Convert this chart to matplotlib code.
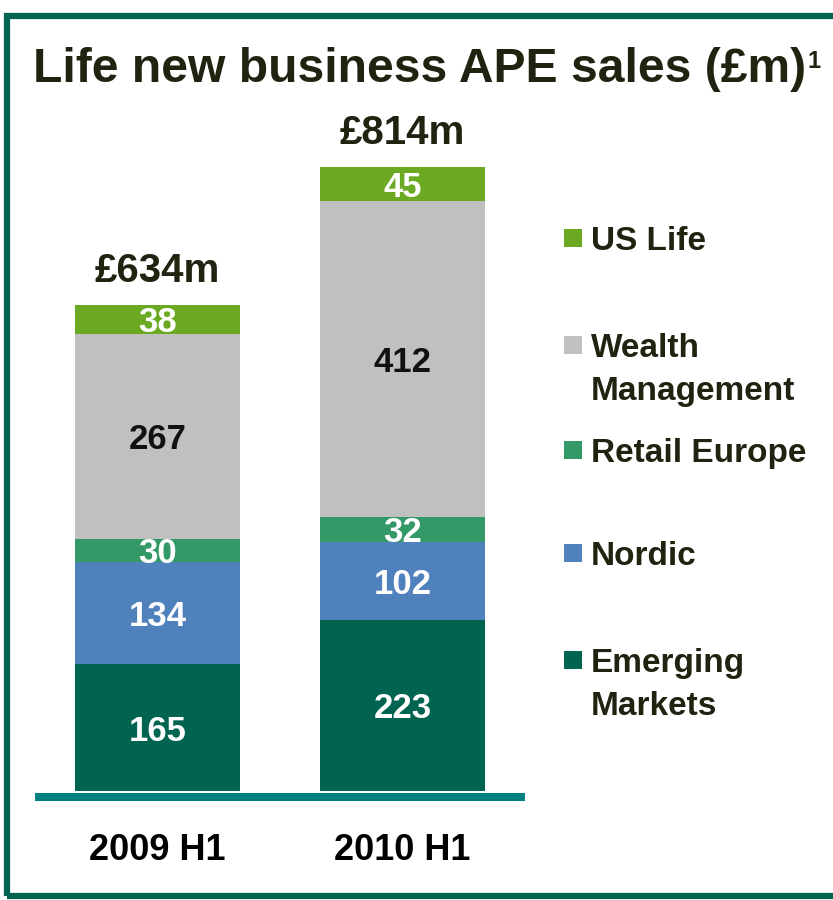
import matplotlib
matplotlib.use("Agg")
import matplotlib.pyplot as plt
from matplotlib.patches import Rectangle
import numpy as np

plt.rcParams['font.family'] = ['Liberation Sans', 'DejaVu Sans']

periods = ["2009 H1", "2010 H1"]
series = ["Emerging Markets", "Nordic", "Retail Europe", "Wealth Management", "US Life"]
legend_labels = ["Emerging\nMarkets", "Nordic", "Retail Europe", "Wealth\nManagement", "US Life"]
values = {
    "Emerging Markets": [165, 223],
    "Nordic": [134, 102],
    "Retail Europe": [30, 32],
    "Wealth Management": [267, 412],
    "US Life": [38, 45],
}
totals = ["£634m", "£814m"]
colors = {
    "Emerging Markets": "#006450",
    "Nordic": "#4F81BD",
    "Retail Europe": "#339966",
    "Wealth Management": "#C0C0C0",
    "US Life": "#6AA921",
}
label_colors = {
    "Emerging Markets": "white",
    "Nordic": "white",
    "Retail Europe": "white",
    "Wealth Management": "#111111",
    "US Life": "white",
}

W, H = 833, 900
fig = plt.figure(figsize=(W / 100, H / 100), dpi=100)
TXT = "#222211"

# frame
fig.patches.append(Rectangle((7 / W, 4 / H), (W + 20) / W, (H - 20) / H, transform=fig.transFigure,
                             fill=False, edgecolor="#006450", linewidth=4.5))

ax_left, ax_right = 35, 525
ax_bottom, ax_top = 791, 100.7
ax = fig.add_axes([ax_left / W, 1 - ax_bottom / H, (ax_right - ax_left) / W, (ax_bottom - ax_top) / H])
ax.set_xlim(-0.5, 1.5)
ax.set_ylim(0, 900)

x = np.arange(len(periods))
bottom = np.zeros(len(periods))
for s in series:
    v = np.array(values[s], dtype=float)
    ax.bar(x, v, width=0.675, bottom=bottom, color=colors[s], edgecolor="none")
    for xi, vi, bi in zip(x, v, bottom):
        ax.text(xi, bi + vi / 2, f"{int(vi)}", ha="center", va="center_baseline",
                fontsize=25, fontweight="bold", color=label_colors[s])
    bottom += v

for xi, t, tot in zip(x, totals, bottom):
    ax.text(xi, tot + 30, t, ha="center", va="baseline", fontsize=29, fontweight="bold", color=TXT)

for sp in ["top", "right", "left"]:
    ax.spines[sp].set_visible(False)
ax.spines["bottom"].set_color("#008080")
ax.spines["bottom"].set_linewidth(5.8)
ax.spines["bottom"].set_capstyle("butt")
ax.spines["bottom"].set_position(("outward", 4))
ax.set_yticks([])
ax.set_xticks(x)
ax.set_xticklabels(periods, fontsize=26, fontweight="bold", color="black")
ax.tick_params(axis="x", length=0, pad=26)

title = fig.text(33 / W, 1 - 82 / H, "Life new business APE sales (£m)", ha="left", va="baseline",
                 fontsize=34.6, fontweight="bold", color=TXT)
ax.annotate("1", xy=(1, 1), xycoords=title, xytext=(1, -2), textcoords="offset points",
            ha="left", va="top", fontsize=17, fontweight="bold", color=TXT)

# legend
leg_y = {"US Life": 238, "Wealth Management": 345, "Retail Europe": 450, "Nordic": 553, "Emerging Markets": 660}
line_gap = 43
for s, lab in zip(series, legend_labels):
    yc = leg_y[s]
    sq = 18
    fig.patches.append(Rectangle((564 / W, 1 - (yc + sq / 2) / H), sq / W, sq / H,
                                 transform=fig.transFigure, facecolor=colors[s], edgecolor="none"))
    for i, line in enumerate(lab.split("\n")):
        fig.text(591 / W, 1 - (yc + i * line_gap) / H, line, ha="left", va="center_baseline",
                 fontsize=24, fontweight="bold", color=TXT)

fig.savefig("out.png", dpi=100)
